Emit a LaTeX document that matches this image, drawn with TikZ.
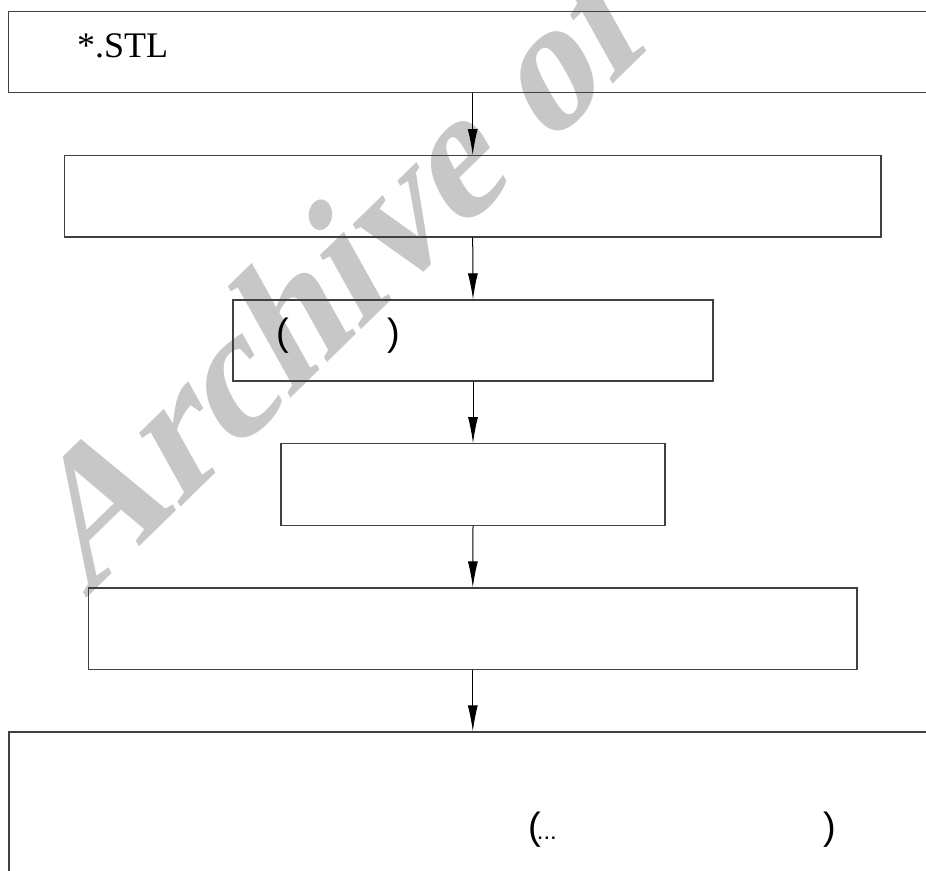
\documentclass[tikz,border=0pt]{standalone}
\usepackage{fontspec}
\setmainfont{Liberation Serif}
\newfontfamily\boxfont{Liberation Sans}
\newfontfamily\wmfont{Liberation Serif}
\usetikzlibrary{arrows.meta}

\tikzset{
  caja/.style={draw=black!75, line width=1.1pt, rectangle, inner sep=0pt},
  flecha/.style={line width=1pt, -{Latex[length=26pt, width=10pt]}},
  texto/.style={inner sep=0pt, anchor=base west}
}

\begin{document}
\begin{tikzpicture}[x=1pt, y=-1pt]
            \useasboundingbox (0,0) rectangle (926,870);
            \clip (0,0) rectangle (926,870);

            % Marca de agua
            \node[inner sep=0pt, anchor=base west, rotate=44.3, xslant=0.27, text=black!22,
                  font=\wmfont\bfseries\fontsize{178}{178}\selectfont] (marca) at (85,600) {Archive of};

            \node[caja, minimum width=981pt, minimum height=81pt] (stl) at (499,52.2) {};
            \node[caja, minimum width=816.5pt, minimum height=81.3pt] (paso1) at (472.7,196.3) {};
            \node[caja, minimum width=480pt, minimum height=81pt] (paso2) at (473,340.5) {};
            \node[caja, minimum width=384pt, minimum height=81.6pt] (paso3) at (473,484.5) {};
            \node[caja, minimum width=768.4pt, minimum height=81.3pt] (paso4) at (472.8,628.6) {};
            \node[caja, minimum width=981pt, minimum height=168pt] (salida) at (499.5,816) {};

            \node[texto, font=\fontsize{36}{42}\selectfont] (nombre) at (77,57) {*.STL};
            \node[texto, font=\boxfont\fontsize{38}{44}\selectfont] (par1) at (276.5,345) {(\hspace{98pt})};
            \node[texto, font=\boxfont\fontsize{38}{44}\selectfont] (par2) at (528,839)
                  {(\kern-4pt{\fontsize{24}{24}\selectfont...}\hspace{266.8pt})};

            \draw[flecha] (paso1.north |- stl.south) -- (paso1.north);
            \draw[flecha] (paso1.south) -- (paso2.north);
            \draw[flecha] (paso2.south) -- (paso3.north);
            \draw[flecha] (paso3.south) -- (paso4.north);
            \draw[flecha] (paso4.south) -- (paso4.south |- salida.north);
\end{tikzpicture}
\end{document}
